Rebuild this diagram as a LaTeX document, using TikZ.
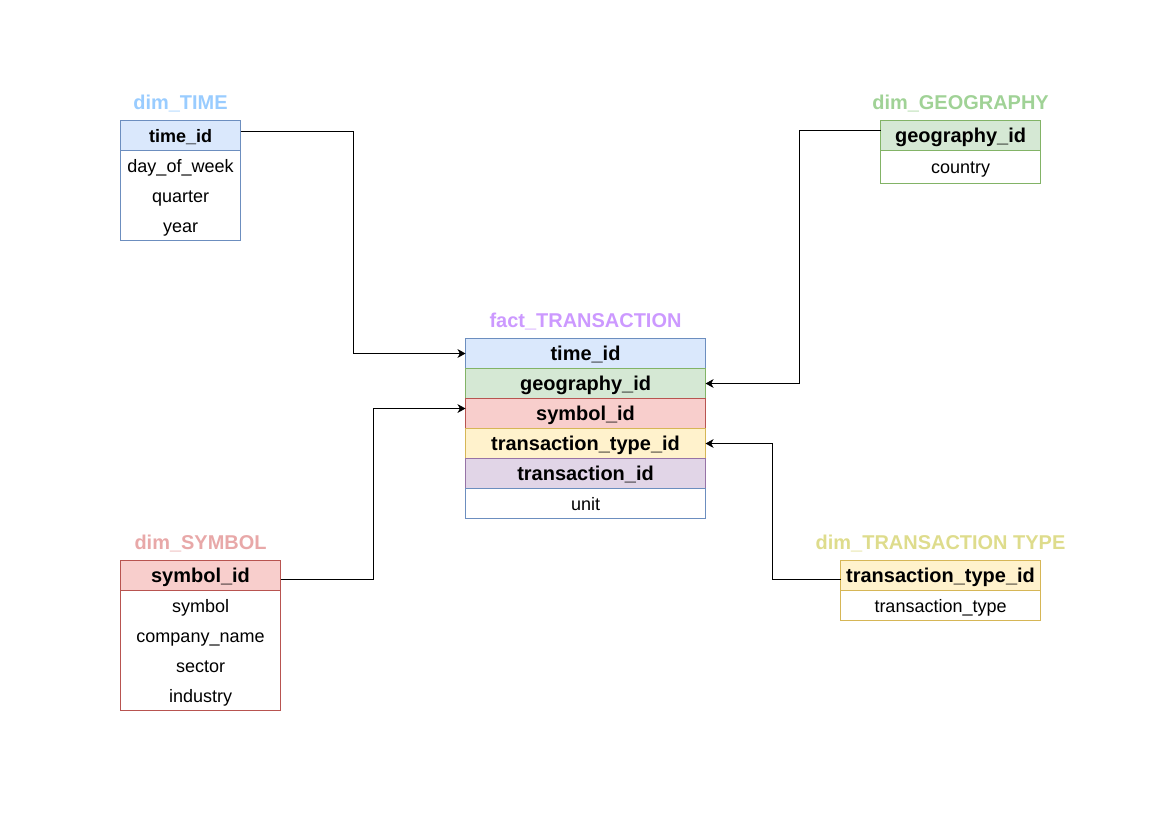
\documentclass[tikz,border=0pt]{standalone}
\usepackage{fontspec}
\setmainfont{Liberation Sans}
\usepackage{xcolor}
\usepackage{tikz}
\usetikzlibrary{arrows.meta,positioning,fit}
\definecolor{keyblue}{RGB}{218,232,252}
\definecolor{lineblue}{RGB}{108,142,191}
\definecolor{keygreen}{RGB}{213,232,212}
\definecolor{linegreen}{RGB}{130,179,102}
\definecolor{keyred}{RGB}{248,206,204}
\definecolor{linered}{RGB}{184,84,80}
\definecolor{keyyellow}{RGB}{255,242,204}
\definecolor{lineyellow}{RGB}{214,182,86}
\definecolor{keypurple}{RGB}{225,213,231}
\definecolor{linepurple}{RGB}{150,115,166}
\definecolor{titleblue}{RGB}{153,204,255}
\definecolor{titlegreen}{RGB}{160,210,150}
\definecolor{titlered}{RGB}{232,168,168}
\definecolor{titleyellow}{RGB}{222,220,140}
\definecolor{titlepurple}{RGB}{204,153,255}

\begin{document}
\begin{tikzpicture}[
        x=0.025cm, y=-0.025cm,
        node distance=0pt,
        line width=0.7pt,
        field/.style={inner sep=0pt, outer sep=0pt, minimum height=0.75cm, text height=10.7pt, text depth=1.4pt, align=center, font=\fontsize{12.8}{15}\selectfont},
        keyfield/.style={field, draw, text height=11.7pt, text depth=1.7pt, font=\fontsize{14.2}{17}\selectfont\bfseries},
        tabletitle/.style={inner sep=0pt, font=\fontsize{14.2}{17}\selectfont\bfseries},
        tableframe/.style={draw=#1, inner sep=0pt, outer sep=0pt},
        link/.style={-{Stealth[length=2mm, width=2.2mm, inset=0.6mm]}, line width=0.6pt}
    ]
    \useasboundingbox (0,0) rectangle (1169,827);

    % dim_TIME
    \node[keyfield, fill=keyblue, draw=lineblue, minimum width=3cm, anchor=north west, font=\fontsize{12.8}{15}\selectfont\bfseries] (timekey) at (120.5,120.5) {time\_id};
    \node[field, minimum width=3cm, below=of timekey] (timedow) {day\_of\_week};
    \node[field, minimum width=3cm, below=of timedow] (timeqtr) {quarter};
    \node[field, minimum width=3cm, below=of timeqtr] (timeyear) {year};
    \node[tableframe=lineblue, fit=(timekey)(timeyear)] (timetab) {};
    \node[tabletitle, text=titleblue, above=0.2cm of timekey] (timetitle) {dim\_TIME};

    % dim_GEOGRAPHY
    \node[keyfield, fill=keygreen, draw=linegreen, minimum width=4cm, anchor=north west] (geokey) at (880.5,120.5) {geography\_id};
    \node[field, minimum width=4cm, minimum height=0.825cm, below=of geokey] (geocountry) {country};
    \node[tableframe=linegreen, fit=(geokey)(geocountry)] (geotab) {};
    \node[tabletitle, text=titlegreen, above=0.2cm of geokey] (geotitle) {dim\_GEOGRAPHY};

    % fact_TRANSACTION
    \node[keyfield, fill=keyblue, draw=lineblue, minimum width=6cm, anchor=north west] (facttime) at (465.5,338.5) {time\_id};
    \node[keyfield, fill=keygreen, draw=linegreen, minimum width=6cm, below=of facttime] (factgeo) {geography\_id};
    \node[keyfield, fill=keyred, draw=linered, minimum width=6cm, below=of factgeo] (factsym) {symbol\_id};
    \node[keyfield, fill=keyyellow, draw=lineyellow, minimum width=6cm, below=of factsym] (facttype) {transaction\_type\_id};
    \node[keyfield, fill=keypurple, draw=linepurple, minimum width=6cm, below=of facttype] (factid) {transaction\_id};
    \node[field, draw=lineblue, minimum width=6cm, below=of factid] (factunit) {unit};
    \node[tabletitle, text=titlepurple, above=0.2cm of facttime] (facttitle) {fact\_TRANSACTION};

    % dim_SYMBOL
    \node[keyfield, fill=keyred, draw=linered, minimum width=4cm, anchor=north west] (symkey) at (120.5,560.5) {symbol\_id};
    \node[field, minimum width=4cm, below=of symkey] (symsym) {symbol};
    \node[field, minimum width=4cm, below=of symsym] (symcomp) {company\_name};
    \node[field, minimum width=4cm, below=of symcomp] (symsect) {sector};
    \node[field, minimum width=4cm, below=of symsect] (symind) {industry};
    \node[tableframe=linered, fit=(symkey)(symind)] (symtab) {};
    \node[tabletitle, text=titlered, above=0.2cm of symkey] (symtitle) {dim\_SYMBOL};

    % dim_TRANSACTION TYPE
    \node[keyfield, fill=keyyellow, draw=lineyellow, minimum width=5cm, anchor=north west] (typekey) at (840.5,560.5) {transaction\_type\_id};
    \node[field, minimum width=5cm, below=of typekey] (typename) {transaction\_type};
    \node[tableframe=lineyellow, fit=(typekey)(typename)] (typetab) {};
    \node[tabletitle, text=titleyellow, above=0.2cm of typekey] (typetitle) {dim\_TRANSACTION TYPE};

    % keys into the fact table
    \draw[link] ([yshift=0.1cm]timekey.east) -- ++(113,0) |- (facttime.west);
    \draw[link] ([yshift=0.125cm]geokey.west) -- ++(-81,0) |- (factgeo.east);
    \draw[link] ([yshift=-0.1cm]symkey.east) -- ++(93,0) |- ([yshift=0.125cm]factsym.west);
    \draw[link] ([yshift=-0.1cm]typekey.west) -- ++(-68,0) |- (facttype.east);
\end{tikzpicture}
\end{document}
